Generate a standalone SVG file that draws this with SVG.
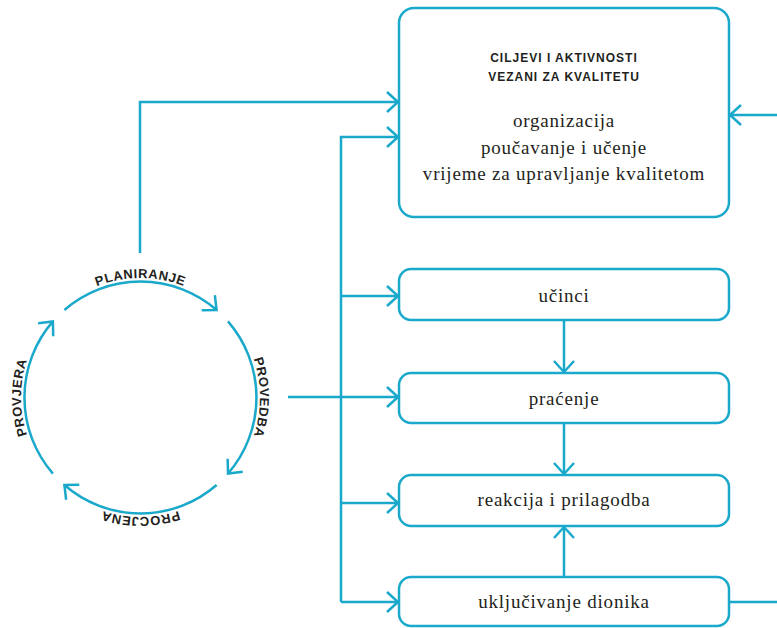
<svg xmlns="http://www.w3.org/2000/svg" width="777" height="628" viewBox="0 0 777 628">
<style>
.ln{fill:none;stroke:#1aa8cb;stroke-width:2.5}
.box{fill:#fff;stroke:#1aa8cb;stroke-width:2.5}
.hd{font-family:"Liberation Sans",Arial,sans-serif;font-weight:bold;font-size:12px;letter-spacing:1px;fill:#231f20;text-anchor:middle}
.sr{font-family:"Liberation Serif","Times New Roman",serif;font-size:19px;letter-spacing:0.8px;fill:#231f20;text-anchor:middle}
.cy{font-family:"Liberation Sans",Arial,sans-serif;font-weight:bold;font-size:13px;letter-spacing:0.6px;fill:#231f20;text-anchor:middle}
</style>
<defs>
<marker id="ah" markerUnits="userSpaceOnUse" markerWidth="30" markerHeight="30" viewBox="-15 -15 30 30" refX="0" refY="0" orient="auto" overflow="visible">
<path d="M-11,-10 L0,0 L-11,10" fill="none" stroke="#1aa8cb" stroke-width="2.5"/>
</marker>
<path id="tp" d="M56,482 A119.5 119.5 0 1 1 225,313 A119.5 119.5 0 1 1 56,482"/>
</defs>
<g id="connectors">
<path class="ln" marker-end="url(#ah)" d="M140,253 V102 H398"/>
<path class="ln" marker-end="url(#ah)" d="M341,602 V137 H398"/>
<path class="ln" marker-end="url(#ah)" d="M341,296 H398"/>
<path class="ln" marker-end="url(#ah)" d="M288,397 H398"/>
<path class="ln" marker-end="url(#ah)" d="M341,503 H398"/>
<path class="ln" marker-end="url(#ah)" d="M341,602 H398"/>
<path class="ln" marker-end="url(#ah)" d="M777,115 H730"/>
<path class="ln" d="M729,602 H777"/>
<path class="ln" marker-end="url(#ah)" d="M564,320 V372"/>
<path class="ln" marker-end="url(#ah)" d="M564,423 V474"/>
<path class="ln" marker-end="url(#ah)" d="M564,577 V527"/>
</g>
<g id="cycle">
<path class="ln" marker-end="url(#ah)" d="M64.4,310 A116 116 0 0 1 216.6,310"/>
<path class="ln" marker-end="url(#ah)" d="M228,321.4 A116 116 0 0 1 228,473.6"/>
<path class="ln" marker-end="url(#ah)" d="M216.6,485 A116 116 0 0 1 64.4,485"/>
<path class="ln" marker-end="url(#ah)" d="M52.9,473.6 A116 116 0 0 1 52.9,321.4"/>
<text class="cy"><textPath href="#tp" startOffset="37.5%">PLANIRANJE</textPath></text>
<text class="cy"><textPath href="#tp" startOffset="62.5%">PROVEDBA</textPath></text>
<text class="cy"><textPath href="#tp" startOffset="87.5%">PROCJENA</textPath></text>
<text class="cy"><textPath href="#tp" startOffset="12.5%">PROVJERA</textPath></text>
</g>
<g id="ciljevi">
<rect class="box" x="399" y="8" width="330" height="209" rx="15"/>
<text class="hd" x="564" y="62">CILJEVI I AKTIVNOSTI</text>
<text class="hd" x="564" y="81">VEZANI ZA KVALITETU</text>
<text class="sr" x="564" y="127">organizacija</text>
<text class="sr" x="564" y="153.5">poučavanje i učenje</text>
<text class="sr" x="564" y="180">vrijeme za upravljanje kvalitetom</text>
</g>
<g id="ucinci">
<rect class="box" x="399" y="269" width="330" height="51" rx="12"/>
<text class="sr" x="564" y="302">učinci</text>
</g>
<g id="pracenje">
<rect class="box" x="399" y="373" width="330" height="50" rx="12"/>
<text class="sr" x="564" y="405">praćenje</text>
</g>
<g id="reakcija">
<rect class="box" x="399" y="475" width="330" height="51" rx="12"/>
<text class="sr" x="564" y="506">reakcija i prilagodba</text>
</g>
<g id="ukljucivanje">
<rect class="box" x="399" y="577" width="330" height="49" rx="12"/>
<text class="sr" x="564" y="608">uključivanje dionika</text>
</g>
</svg>
